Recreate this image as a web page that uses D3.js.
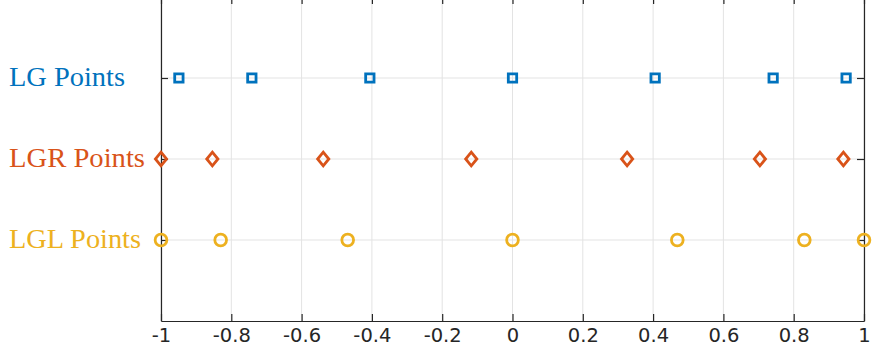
<!DOCTYPE html>
<html>
<head>
<meta charset="utf-8">
<script src="https://cdn.jsdelivr.net/npm/d3@7"></script>
<style>
  html, body { margin: 0; padding: 0; background: #fff; }
  svg { display: block; }
</style>
</head>
<body>
<svg id="chart" width="872" height="354"></svg>
<script>
// Collocation node sets on [-1, 1] for N = 7
const lgPoints  = [-0.949108, -0.741531, -0.405845, 0, 0.405845, 0.741531, 0.949108];
const lgrPoints = [-1, -0.853891, -0.538468, -0.117343, 0.326031, 0.703843, 0.941367];
const lglPoints = [-1, -0.830224, -0.468849, 0, 0.468849, 0.830224, 1];

const seriesNames  = ["LG Points", "LGR Points", "LGL Points"];
const seriesLevels = [3, 2, 1];
const seriesColors = ["#0072BD", "#D95319", "#EDB120"];
const seriesShapes = ["square", "diamond", "circle"];
const xTicks = [-1, -0.8, -0.6, -0.4, -0.2, 0, 0.2, 0.4, 0.6, 0.8, 1];
const xTickLabels = ["-1", "-0.8", "-0.6", "-0.4", "-0.2", "0", "0.2", "0.4", "0.6", "0.8", "1"];
const labelWidths = [116, 136, 132];

const seriesData = [lgPoints, lgrPoints, lglPoints];

const svg = d3.select("#chart");
const plot = { left: 161, right: 864, top: -3, bottom: 321 };

const x = d3.scaleLinear().domain([-1, 1]).range([plot.left, plot.right]);
const y = d3.scaleLinear().domain([0, 4]).range([plot.bottom, plot.top]);

// grid lines
const grid = svg.append("g");
grid.selectAll("line.gx").data(xTicks).join("line")
  .attr("class", "gx")
  .attr("x1", d => x(d)).attr("x2", d => x(d))
  .attr("y1", plot.top).attr("y2", plot.bottom)
  .attr("stroke", "#e3e3e3").attr("stroke-width", 1);
grid.selectAll("line.gy").data(seriesLevels).join("line")
  .attr("class", "gy")
  .attr("x1", plot.left).attr("x2", plot.right)
  .attr("y1", d => y(d)).attr("y2", d => y(d))
  .attr("stroke", "#e3e3e3").attr("stroke-width", 1);

// axes: bottom with labels, top/left/right ticks only
const bottomAxis = svg.append("g")
  .attr("transform", `translate(0,${plot.bottom})`)
  .call(d3.axisBottom(x).tickValues(xTicks).tickSizeInner(-7).tickSizeOuter(0).tickPadding(7)
    .tickFormat((d, i) => xTickLabels[i]));
const topAxis = svg.append("g")
  .attr("transform", `translate(0,${plot.top})`)
  .call(d3.axisTop(x).tickValues(xTicks).tickSizeInner(-7).tickSizeOuter(0).tickFormat(""));
const leftAxis = svg.append("g")
  .attr("transform", `translate(${plot.left},0)`)
  .call(d3.axisLeft(y).tickValues(seriesLevels).tickSizeInner(-7).tickSizeOuter(0).tickFormat(""));
const rightAxis = svg.append("g")
  .attr("transform", `translate(${plot.right},0)`)
  .call(d3.axisRight(y).tickValues(seriesLevels).tickSizeInner(-7).tickSizeOuter(0).tickFormat(""));

[bottomAxis, topAxis, leftAxis, rightAxis].forEach(g => {
  g.select(".domain").attr("stroke", "#262626").attr("stroke-width", 1.2);
  g.selectAll(".tick line").attr("stroke", "#262626").attr("stroke-width", 1.2);
});
bottomAxis.selectAll(".tick text")
  .attr("fill", "#262626")
  .style("font-family", "'DejaVu Sans', sans-serif")
  .style("font-size", "19.5px");

// category labels on the left
svg.append("g").selectAll("text").data(seriesNames).join("text")
  .attr("x", 9)
  .attr("y", (d, i) => y(seriesLevels[i]))
  .attr("dy", "0.3em")
  .attr("fill", (d, i) => seriesColors[i])
  .attr("textLength", (d, i) => labelWidths[i])
  .attr("lengthAdjust", "spacingAndGlyphs")
  .style("font-family", "'Liberation Serif', 'Times New Roman', serif")
  .style("font-size", "27px")
  .text(d => d);

// markers
const symbolFor = {
  square: d3.symbol().type(d3.symbolSquare).size(70),
  circle: d3.symbol().type(d3.symbolCircle).size(108)
};
seriesData.forEach((pts, i) => {
  const g = svg.append("g");
  const shape = seriesShapes[i];
  g.selectAll("path").data(pts).join("path")
    .attr("transform", d => `translate(${x(d)},${y(seriesLevels[i])})`)
    .attr("d", shape === "diamond"
      ? "M0,-6.8L5.6,0L0,6.8L-5.6,0Z"
      : symbolFor[shape]())
    .attr("fill", "none")
    .attr("stroke", seriesColors[i])
    .attr("stroke-width", 2.8);
});
</script>
</body>
</html>
